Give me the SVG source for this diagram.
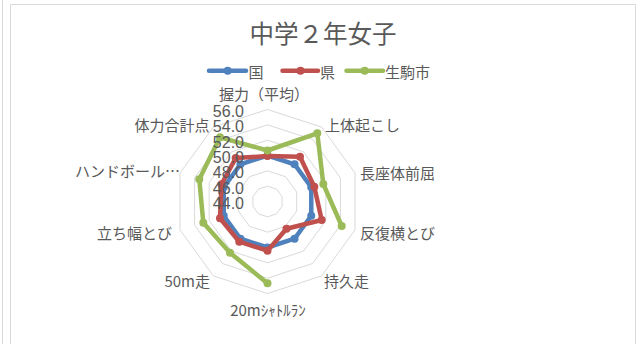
<svg xmlns="http://www.w3.org/2000/svg" width="637" height="344" viewBox="0 0 637 344">
<style>
.frame{fill:none;stroke:#d9d9d9;stroke-width:1}
.ring{fill:none;stroke:#d9d9d9;stroke-width:1}
.t{font-family:"Noto Sans CJK JP","Noto Sans",sans-serif;fill:#595959}
.lab{font-size:15px}
.tick{font-family:"Liberation Sans",Arial,sans-serif;font-size:16px;fill:#595959;text-anchor:end}
.ser{fill:none;stroke-width:4.5;stroke-linejoin:round;stroke-linecap:round}
.blue{stroke:#4f81bd}
.red{stroke:#c0504d}
.green{stroke:#9bbb59}
.mb{fill:#4f81bd}
.mr{fill:#c0504d}
.mg{fill:#9bbb59}
</style>
<rect x="0" y="0" width="637" height="344" fill="#ffffff"/>
<line class="frame" x1="2.5" y1="0" x2="2.5" y2="344"/>
<path class="frame" d="M10.5,344 V4.5 H635.5 V344"/>

<g id="title"><text class="t" x="323" y="43" font-size="24.5" text-anchor="middle">中学２年女子</text></g>

<g id="legend">
<line class="ser blue" x1="209" y1="70.7" x2="246" y2="70.7"/><circle class="mb" cx="227.7" cy="70.7" r="4"/>
<text class="t lab" x="248.5" y="77.5">国</text>
<line class="ser red" x1="282.5" y1="70.7" x2="318" y2="70.7"/><circle class="mr" cx="300.5" cy="70.7" r="4"/>
<text class="t lab" x="320" y="77.5">県</text>
<line class="ser green" x1="346.5" y1="70.7" x2="383" y2="70.7"/><circle class="mg" cx="364.7" cy="70.7" r="4"/>
<text class="t lab" x="385" y="77.5">生駒市</text>
</g>

<g id="grid">
<polygon class="ring" points="267.5,186.17 276.51,189.1 282.08,196.76 282.08,206.24 276.51,213.9 267.5,216.83 258.49,213.9 252.92,206.24 252.92,196.76 258.49,189.1"/>
<polygon class="ring" points="267.5,170.83 285.53,176.69 296.67,192.02 296.67,210.98 285.53,226.31 267.5,232.17 249.47,226.31 238.33,210.98 238.33,192.02 249.47,176.69"/>
<polygon class="ring" points="267.5,155.5 294.54,164.29 311.25,187.29 311.25,215.71 294.54,238.71 267.5,247.5 240.46,238.71 223.75,215.71 223.75,187.29 240.46,164.29"/>
<polygon class="ring" points="267.5,140.17 303.55,151.88 325.83,182.55 325.83,220.45 303.55,251.12 267.5,262.83 231.45,251.12 209.17,220.45 209.17,182.55 231.45,151.88"/>
<polygon class="ring" points="267.5,124.83 312.57,139.48 340.42,177.81 340.42,225.19 312.57,263.52 267.5,278.17 222.43,263.52 194.58,225.19 194.58,177.81 222.43,139.48"/>
<polygon class="ring" points="267.5,109.5 321.58,127.07 355,173.07 355,229.93 321.58,275.93 267.5,293.5 213.42,275.93 180,229.93 180,173.07 213.42,127.07"/>
</g>

<g id="axis-labels">
<text class="t lab" x="264" y="100" text-anchor="middle">握力（平均）</text>
<text class="t lab" x="325" y="130.5">上体起こし</text>
<text class="t lab" x="360" y="179">長座体前屈</text>
<text class="t lab" x="360" y="239">反復横とび</text>
<text class="t lab" x="324" y="287">持久走</text>
<text class="t lab" x="268" y="316" text-anchor="middle">20mｼｬﾄﾙﾗﾝ</text>
<text class="t lab" x="210" y="287" text-anchor="end">50m走</text>
<text class="t lab" x="172" y="239" text-anchor="end">立ち幅とび</text>
<text class="t lab" x="180" y="177" text-anchor="end">ハンドボール…</text>
<text class="t lab" x="209.5" y="131" text-anchor="end">体力合計点</text>
</g>

<g id="series-kuni">
<polygon class="ser blue" points="267.5,155.5 294.54,164.29 311.25,187.29 311.25,215.71 294.54,238.71 267.5,247.5 240.46,238.71 223.75,215.71 223.75,187.29 240.46,164.29"/>
<g class="mb">
<circle cx="267.5" cy="155.5" r="4"/><circle cx="294.54" cy="164.29" r="4"/><circle cx="311.25" cy="187.29" r="4"/><circle cx="311.25" cy="215.71" r="4"/><circle cx="294.54" cy="238.71" r="4"/><circle cx="267.5" cy="247.5" r="4"/><circle cx="240.46" cy="238.71" r="4"/><circle cx="223.75" cy="215.71" r="4"/><circle cx="223.75" cy="187.29" r="4"/><circle cx="240.46" cy="164.29" r="4"/>
</g>
</g>

<g id="series-ken">
<polygon class="ser red" points="267.5,156 300,156.7 314.3,186.7 321.7,220 286.5,228.8 267.5,250.7 239.3,241.7 220,218.3 221.5,184.3 235.7,158.1"/>
<g class="mr">
<circle cx="267.5" cy="156" r="4"/><circle cx="300" cy="156.7" r="4"/><circle cx="314.3" cy="186.7" r="4"/><circle cx="321.7" cy="220" r="4"/><circle cx="286.5" cy="228.8" r="4"/><circle cx="267.5" cy="250.7" r="4"/><circle cx="239.3" cy="241.7" r="4"/><circle cx="220" cy="218.3" r="4"/><circle cx="221.5" cy="184.3" r="4"/><circle cx="235.7" cy="158.1" r="4"/>
</g>
</g>

<g id="series-ikoma">
<polyline class="ser green" points="267.5,283.3 230,252.7 203.3,222.7 199.3,179.3 220,137.3 267.5,150.5 317.3,133.3 323.3,184 341.7,226"/>
<g class="mg">
<circle cx="267.5" cy="150.5" r="4"/><circle cx="317.3" cy="133.3" r="4"/><circle cx="323.3" cy="184" r="4"/><circle cx="341.7" cy="226" r="4"/><circle cx="267.5" cy="283.3" r="4"/><circle cx="230" cy="252.7" r="4"/><circle cx="203.3" cy="222.7" r="4"/><circle cx="199.3" cy="179.3" r="4"/><circle cx="220" cy="137.3" r="4"/>
</g>
</g>

<g id="tick-labels">
<text class="tick" x="244" y="117">56.0</text>
<text class="tick" x="244" y="132.3">54.0</text>
<text class="tick" x="244" y="147.7">52.0</text>
<text class="tick" x="244" y="163">50.0</text>
<text class="tick" x="244" y="178.3">48.0</text>
<text class="tick" x="244" y="193.7">46.0</text>
<text class="tick" x="244" y="209">44.0</text>
</g>
</svg>
